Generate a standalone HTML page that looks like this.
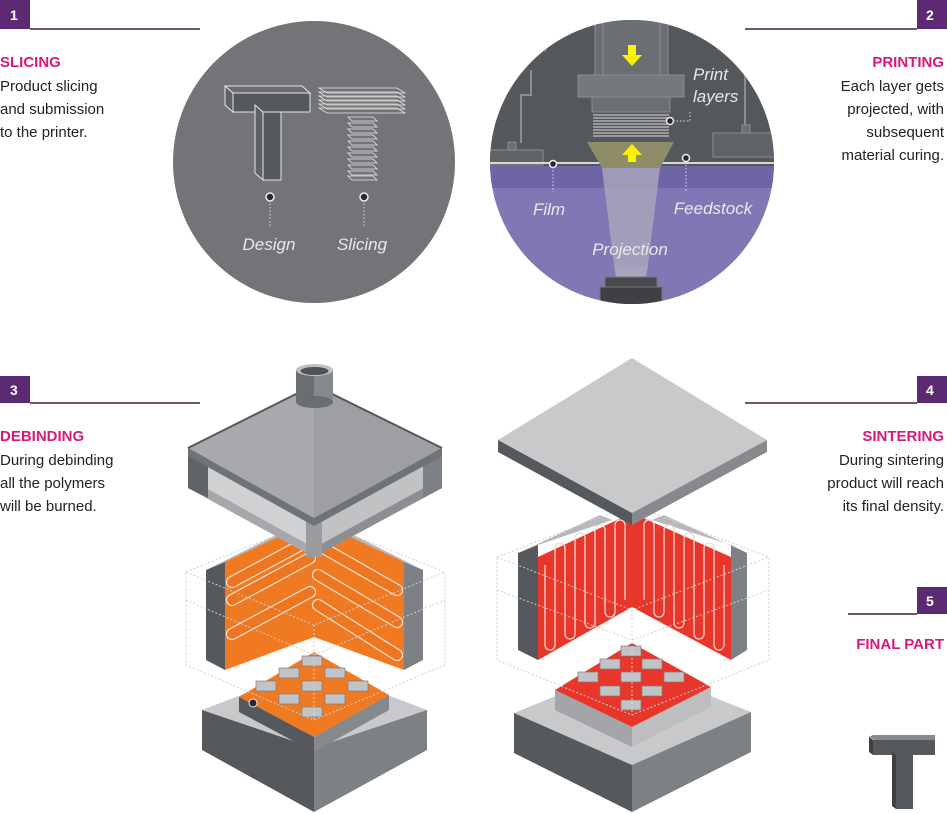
<!DOCTYPE html>
<html><head><meta charset="utf-8"><style>
body{margin:0;background:#fff;}
svg{display:block;font-family:"Liberation Sans",sans-serif;}
.h{font-weight:bold;font-size:15px;fill:#d8187a;}
.b{font-size:15px;fill:#222;}
.n{font-weight:bold;font-size:14px;fill:#fff;}
.lbl{font-style:italic;font-size:17px;fill:#e8e8ec;}
</style></head><body>
<svg width="947" height="814" viewBox="0 0 947 814">
<defs>
<clipPath id="c2"><circle cx="632" cy="162" r="142"/></clipPath>
</defs>
<rect x="0" y="0" width="30" height="29" fill="#5b2a72"/><text x="10" y="20" class="n">1</text>
<line x1="30" y1="29" x2="200" y2="29" stroke="#3d1f3f" stroke-width="1.5"/>
<text x="0" y="67" class="h">SLICING</text>
<text x="0" y="91" class="b">Product slicing</text>
<text x="0" y="114" class="b">and submission</text>
<text x="0" y="137" class="b">to the printer.</text>

<rect x="917" y="0" width="30" height="29" fill="#5b2a72"/><text x="926" y="20" class="n">2</text>
<line x1="745" y1="29" x2="917" y2="29" stroke="#3d1f3f" stroke-width="1.5"/>
<g text-anchor="end"><text x="944" y="67" class="h">PRINTING</text>
<text x="944" y="91" class="b">Each layer gets</text>
<text x="944" y="114" class="b">projected, with</text>
<text x="944" y="137" class="b">subsequent</text>
<text x="944" y="160" class="b">material curing.</text></g>

<rect x="0" y="376" width="30" height="27" fill="#5b2a72"/><text x="10" y="395" class="n">3</text>
<line x1="30" y1="403" x2="200" y2="403" stroke="#3d1f3f" stroke-width="1.5"/>
<text x="0" y="441" class="h">DEBINDING</text>
<text x="0" y="465" class="b">During debinding</text>
<text x="0" y="488" class="b">all the polymers</text>
<text x="0" y="511" class="b">will be burned.</text>

<rect x="917" y="376" width="30" height="27" fill="#5b2a72"/><text x="926" y="395" class="n">4</text>
<line x1="745" y1="403" x2="917" y2="403" stroke="#3d1f3f" stroke-width="1.5"/>
<g text-anchor="end"><text x="944" y="441" class="h">SINTERING</text>
<text x="944" y="465" class="b">During sintering</text>
<text x="944" y="488" class="b">product will reach</text>
<text x="944" y="511" class="b">its final density.</text></g>

<rect x="917" y="587" width="30" height="27" fill="#5b2a72"/><text x="926" y="606" class="n">5</text>
<line x1="848" y1="614" x2="917" y2="614" stroke="#3d1f3f" stroke-width="1.5"/>
<text x="944" y="649" class="h" text-anchor="end">FINAL PART</text>
<polygon points="869,737 873,735 935,735 935,740 874,740" fill="#888a8d"/>
<rect x="873" y="740" width="62" height="15" fill="#55585c"/>
<polygon points="869,737 873,740 873,755 869,752" fill="#3e4043"/>
<rect x="896" y="755" width="17" height="54" fill="#55585c"/>
<polygon points="892,752 896,755 896,809 892,806" fill="#3e4043"/>

<!-- circle 1 -->
<circle cx="314" cy="162" r="141" fill="#727477"/>
<g stroke="#e6e6e6" stroke-width="1" fill="#55585c">
<polygon points="225,86 302,86 310,93 233,93" fill="#6a6c70"/>
<rect x="233" y="93" width="77" height="19"/>
<polygon points="225,86 233,93 233,112 225,105" fill="#5f6165"/>
<rect x="263" y="112" width="18" height="68"/>
<polygon points="255,105 263,112 263,180 255,173" fill="#5f6165"/>
</g>
<g stroke="#e6e6e6" stroke-width="0.8" fill="none">
<path d="M319,88h78l8,5h-78z M319,92h78l8,5h-78z M319,96h78l8,5h-78z M319,100h78l8,5h-78z M319,104h78l8,5h-78z M319,108h78l8,5h-78z"/>
<path d="M348,117h25l4,4h-25z M348,123h25l4,4h-25z M348,129h25l4,4h-25z M348,135h25l4,4h-25z M348,141h25l4,4h-25z M348,147h25l4,4h-25z M348,153h25l4,4h-25z M348,159h25l4,4h-25z M348,165h25l4,4h-25z M348,171h25l4,4h-25z M348,176h25l4,4h-25z"/>
</g>
<g stroke="#ddd" stroke-dasharray="1.5,2"><line x1="270" y1="200" x2="270" y2="226"/><line x1="364" y1="200" x2="364" y2="226"/></g>
<circle cx="270" cy="197" r="4" fill="#2a2440" stroke="#eee" stroke-width="1.5"/>
<circle cx="364" cy="197" r="4" fill="#2a2440" stroke="#eee" stroke-width="1.5"/>
<text x="269" y="250" class="lbl" text-anchor="middle">Design</text>
<text x="362" y="250" class="lbl" text-anchor="middle">Slicing</text>

<!-- circle 2 -->
<g clip-path="url(#c2)">
<rect x="489" y="20" width="287" height="290" fill="#54575b"/>
<circle cx="760" cy="30" r="40" fill="#6b6e72" stroke="#7c7f83"/>
<path d="M545,40v10h-10" stroke="#7c7f83" stroke-width="3" fill="none"/>
<path d="M531,70v25h-10v48" stroke="#8a8d91" stroke-width="2" fill="none"/>
<path d="M745,75v50" stroke="#8a8d91" stroke-width="2" fill="none"/>
<rect x="508" y="142" width="8" height="8" fill="#6b6e72" stroke="#8a8d91"/>
<rect x="742" y="125" width="8" height="8" fill="#6b6e72" stroke="#8a8d91"/>
<rect x="489" y="150" width="54" height="15" fill="#5f6266" stroke="#8a8d91"/>
<rect x="713" y="133" width="65" height="24" fill="#5f6266" stroke="#8a8d91"/>
<rect x="595" y="18" width="73" height="60" fill="#6b6e72" stroke="#8a8d91"/>
<line x1="603" y1="18" x2="603" y2="78" stroke="#8a8d91"/><line x1="660" y1="18" x2="660" y2="78" stroke="#8a8d91"/>
<rect x="578" y="75" width="106" height="22" fill="#75787c" stroke="#8a8d91"/>
<rect x="592" y="97" width="78" height="15" fill="#6b6e72" stroke="#8a8d91"/>
<g stroke="#ddd" stroke-width="1"><line x1="593" y1="115" x2="669" y2="115"/><line x1="593" y1="118" x2="669" y2="118"/><line x1="593" y1="121" x2="669" y2="121"/><line x1="593" y1="124" x2="669" y2="124"/><line x1="593" y1="127" x2="669" y2="127"/><line x1="593" y1="130" x2="669" y2="130"/><line x1="593" y1="133" x2="669" y2="133"/><line x1="593" y1="136" x2="669" y2="136"/></g>
<rect x="489" y="166" width="287" height="145" fill="#7f78b4"/>
<rect x="489" y="166" width="287" height="22" fill="#6d65a6"/>
<line x1="489" y1="163" x2="776" y2="163" stroke="#d8d8d8" stroke-width="2"/>
<polygon points="587,142 674,142 660,168 602,168" fill="#8f8c6a"/>
<polygon points="602,168 660,168 648,265 614,265" fill="#a9a3bd" opacity="0.85"/>
<polygon points="614,265 648,265 646,277 616,277" fill="#a9a3bd"/>
<polygon points="628,45 636,45 636,55 642,55 632,66 622,55 628,55" fill="#fff200"/>
<polygon points="628,162 636,162 636,155 642,155 632,144 622,155 628,155" fill="#fff200"/>
<rect x="605" y="277" width="52" height="10" fill="#45484c" stroke="#777"/>
<rect x="600" y="287" width="62" height="20" fill="#3e4044" stroke="#777"/>
</g>
<g stroke="#ddd" stroke-dasharray="1.5,2" fill="none"><path d="M553,167v25"/><path d="M686,161v30"/><path d="M673,121h17v-9"/></g>
<circle cx="553" cy="164" r="3.5" fill="#2a2440" stroke="#eee" stroke-width="1.5"/>
<circle cx="686" cy="158" r="3.5" fill="#2a2440" stroke="#eee" stroke-width="1.5"/>
<circle cx="670" cy="121" r="3.5" fill="#2a2440" stroke="#eee" stroke-width="1.5"/>
<text x="549" y="215" class="lbl" text-anchor="middle" font-size="16">Film</text>
<text x="713" y="214" class="lbl" text-anchor="middle" font-size="16">Feedstock</text>
<text x="630" y="255" class="lbl" text-anchor="middle" font-size="16">Projection</text>
<text x="693" y="80" class="lbl" font-size="16">Print</text>
<text x="693" y="102" class="lbl" font-size="16">layers</text>

<!-- ===== DEBINDING ===== -->
<polygon points="202,710 314,667 427,710 314,748" fill="#c8c9cb"/>
<polygon points="202,710 314,748 314,812 202,750" fill="#55585c"/>
<polygon points="427,710 314,748 314,812 427,750" fill="#7d8084"/>
<polygon points="239,697 314,652 389,695 314,737" fill="#f07a22"/>
<polygon points="239,697 314,737 314,752 239,712" fill="#55585c"/>
<polygon points="389,695 314,737 314,752 389,710" fill="#85888c"/>
<g fill="#c2c3c5" stroke="#7a7c80" stroke-width="0.7">
<rect x="302" y="656" width="20" height="10"/><rect x="279" y="668" width="20" height="10"/><rect x="325" y="668" width="20" height="10"/>
<rect x="256" y="681" width="20" height="10"/><rect x="302" y="681" width="20" height="10"/><rect x="348" y="681" width="20" height="10"/>
<rect x="279" y="694" width="20" height="10"/><rect x="325" y="694" width="20" height="10"/>
<rect x="302" y="707" width="20" height="10"/>
</g>
<circle cx="253" cy="703" r="4" fill="#2a2440" stroke="#eee"/>
<polygon points="206,570 225,562 225,670 206,660" fill="#55585c"/>
<polygon points="206,570 290,528 305,535 225,562" fill="#b6b8bb"/>
<polygon points="423,570 404,562 404,670 423,660" fill="#7d8084"/>
<polygon points="423,570 340,528 325,535 404,562" fill="#b6b8bb"/>
<polygon points="225,562 314,520 314,637 225,670" fill="#f07a22"/>
<polygon points="404,562 314,520 314,637 404,670" fill="#f07a22"/>
<g stroke-linecap="round">
<g stroke="#f4f4f4" stroke-width="12"><line x1="232" y1="582" x2="310" y2="540"/><line x1="232" y1="600" x2="310" y2="558"/><line x1="232" y1="634" x2="310" y2="592"/>
<line x1="318" y1="545" x2="397" y2="590"/><line x1="318" y1="575" x2="397" y2="622"/><line x1="318" y1="605" x2="397" y2="655"/></g>
<g stroke="#ee7620" stroke-width="10"><line x1="232" y1="582" x2="310" y2="540"/><line x1="232" y1="600" x2="310" y2="558"/><line x1="232" y1="634" x2="310" y2="592"/>
<line x1="318" y1="545" x2="397" y2="590"/><line x1="318" y1="575" x2="397" y2="622"/><line x1="318" y1="605" x2="397" y2="655"/></g>
</g>
<g stroke="#cfd0d2" stroke-dasharray="2,2" fill="none" stroke-width="1">
<path d="M186,572 L314,520 L445,572 L445,665 L314,720 L186,665 Z"/>
<path d="M186,572 L314,625 L445,572 M314,625 V720 M186,600 L314,655 L445,600"/>
</g>
<!-- hood -->
<polygon points="188,448 314,518 314,557 188,488" fill="#d0d1d3"/>
<polygon points="442,448 314,518 314,557 442,488" fill="#c0c2c4"/>
<polygon points="188,478 314,548 314,557 188,488" fill="#a6a8ab"/>
<polygon points="442,478 314,548 314,557 442,488" fill="#8c8e91"/>
<polygon points="188,448 208,458 208,498 188,488" fill="#5f6266"/>
<polygon points="306,514 322,514 322,557 306,557" fill="#9a9ca0"/>
<polygon points="423,458 442,448 442,488 423,498" fill="#7d8084"/>
<polygon points="188,448 314,385 314,518" fill="#a7a9ac"/>
<polygon points="442,448 314,385 314,518" fill="#9d9fa2"/>
<polyline points="188,448 314,385 442,448" fill="none" stroke="#55585c" stroke-width="2"/>
<polygon points="188,448 314,518 442,448 442,456 314,526 188,456" fill="#6f7276"/>
<rect x="296" y="370" width="37" height="32" fill="#6a6d71"/>
<rect x="314" y="370" width="19" height="32" fill="#85888c"/>
<ellipse cx="314.5" cy="402" rx="18.5" ry="6" fill="#6a6d71"/>
<ellipse cx="314.5" cy="370" rx="18.5" ry="6" fill="#bfc0c3"/>
<ellipse cx="314.5" cy="371" rx="14" ry="4" fill="#4f5256"/>

<!-- ===== SINTERING ===== -->
<polygon points="514,713 632,665 751,712 632,765" fill="#c8c9cb"/>
<polygon points="514,713 632,765 632,812 514,753" fill="#55585c"/>
<polygon points="751,712 632,765 632,812 751,752" fill="#7d8084"/>
<polygon points="555,690 632,643 711,687 632,727" fill="#e8362a"/>
<polygon points="555,690 632,727 632,747 555,710" fill="#a3a5a8"/>
<polygon points="711,687 632,727 632,747 711,707" fill="#bcbec0"/>
<g fill="#c2c3c5" stroke="#7a7c80" stroke-width="0.7">
<rect x="621" y="646" width="20" height="10"/><rect x="600" y="659" width="20" height="10"/><rect x="642" y="659" width="20" height="10"/>
<rect x="578" y="672" width="20" height="10"/><rect x="621" y="672" width="20" height="10"/><rect x="664" y="672" width="20" height="10"/>
<rect x="600" y="686" width="20" height="10"/><rect x="642" y="686" width="20" height="10"/><rect x="621" y="700" width="20" height="10"/>
</g>
<polygon points="518,553 538,545 538,660 518,650" fill="#55585c"/>
<polygon points="518,553 600,515 612,520 538,545" fill="#b6b8bb"/>
<polygon points="747,553 731,545 731,660 747,650" fill="#7d8084"/>
<polygon points="747,553 664,515 652,520 731,545" fill="#b6b8bb"/>
<polygon points="538,557 632,513 632,607 538,660" fill="#e8362a"/>
<polygon points="731,557 632,513 632,607 731,660" fill="#e8362a"/>
<g fill="none" stroke="#f6d6d2" stroke-width="1.3">
<path d="M545,565 V645 A5,5 0 0 0 555,645 V548 A5,5 0 0 1 565,548 V634 A5,5 0 0 0 575,634 V538 A5,5 0 0 1 585,538 V623 A5,5 0 0 0 595,623 V530 A5,5 0 0 1 605,530 V612 A5,5 0 0 0 615,612 V525 A5,5 0 0 1 625,525 V600"/>
<path d="M724,565 V645 A5,5 0 0 1 714,645 V548 A5,5 0 0 0 704,548 V634 A5,5 0 0 1 694,634 V538 A5,5 0 0 0 684,538 V623 A5,5 0 0 1 674,623 V530 A5,5 0 0 0 664,530 V612 A5,5 0 0 1 654,612 V525 A5,5 0 0 0 644,525 V600"/>
</g>
<g stroke="#cfd0d2" stroke-dasharray="2,2" fill="none" stroke-width="1">
<path d="M497,557 L632,505 L769,557 L769,660 L632,715 L497,660 Z M497,557 L632,610 L769,557 M632,610 V715 M497,590 L632,640 L769,590"/>
</g>
<polygon points="498,440 632,358 767,440 632,513" fill="#c8c9cb"/>
<polygon points="498,440 632,513 632,525 498,452" fill="#55585c"/>
<polygon points="767,440 632,513 632,525 767,452" fill="#88898c"/>
</svg>
</body></html>
